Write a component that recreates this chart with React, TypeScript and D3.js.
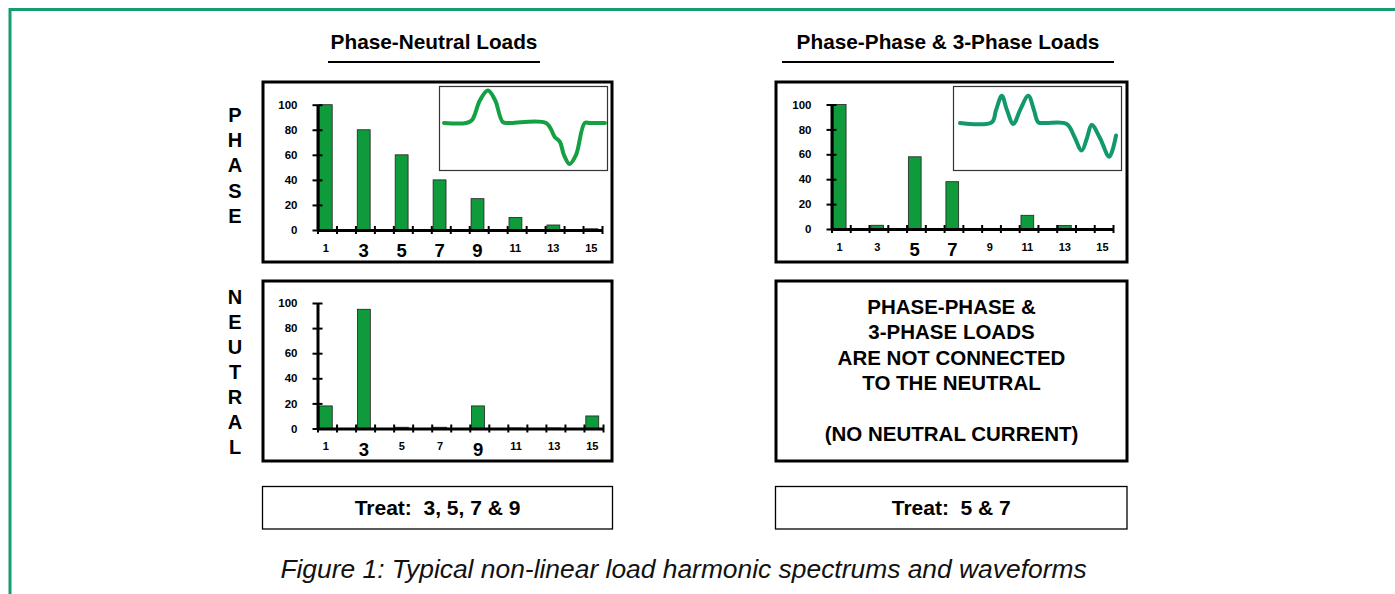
import React, { useEffect, useRef } from 'react'
import * as d3 from 'd3'

// harmonic orders on the x axis, only the odd ones get a label
const harmonics = [1, 2, 3, 4, 5, 6, 7, 8, 9, 10, 11, 12, 13, 14, 15]
const oddLabels = [1, 3, 5, 7, 9, 11, 13, 15]
const yTicks = [0, 20, 40, 60, 80, 100]

// % of fundamental
const phaseNeutralPhase = [100, 0, 80, 0, 60, 0, 40, 0, 25, 0, 10, 0, 4, 0, 1]
const phaseNeutralNeutral = [18, 0, 95, 0, 1, 0, 1, 0, 18, 0, 0.4, 0, 0.4, 0, 10]
const phasePhasePhase = [100, 0, 3, 0, 58, 0, 38, 0, 0.5, 0, 11, 0, 2.8, 0, 0.5]

// harmonics that are drawn with a big label
const bigPhaseNeutral = [3, 5, 7, 9]
const bigPhasePhase = [5, 7]
const bigNeutral = [3, 9]

// current waveforms in the insets: [time 0..1, amplitude]
const waveSingle: [number, number][] = [
  [0, 0], [0.137, 0], [0.174, 0.07], [0.224, 0.56], [0.273, 0.79], [0.317, 0.56],
  [0.366, 0.02], [0.41, 0], [0.634, 0], [0.688, -0.34], [0.72, -0.46], [0.745, -0.78],
  [0.78, -1], [0.82, -0.78], [0.874, 0], [0.907, 0], [1, 0],
]
const waveDouble: [number, number][] = [
  [0, 0], [0.203, 0.02], [0.231, 0.38], [0.268, 0.8], [0.301, 0.38], [0.342, -0.03],
  [0.385, 0.38], [0.438, 0.8], [0.474, 0.38], [0.502, 0.02], [0.545, 0], [0.684, -0.03],
  [0.731, -0.38], [0.78, -0.81], [0.814, -0.44], [0.844, -0.05], [0.897, -0.44],
  [0.957, -0.99], [1, -0.37],
]

const titleLeft = 'Phase-Neutral Loads'
const titleRight = 'Phase-Phase & 3-Phase Loads'
const phaseLetters = ['P', 'H', 'A', 'S', 'E']
const neutralLetters = ['N', 'E', 'U', 'T', 'R', 'A', 'L']
const noNeutralLines = ['PHASE-PHASE &', '3-PHASE LOADS', 'ARE NOT CONNECTED', 'TO THE NEUTRAL', '', '(NO NEUTRAL CURRENT)']
const treatLeft = 'Treat:  3, 5, 7 & 9'
const treatRight = 'Treat:  5 & 7'
const caption = 'Figure 1: Typical non-linear load harmonic spectrums and waveforms'

const FONT = '"Liberation Sans", Arial, Helvetica, sans-serif'
const BAR = '#0f9a3b'

const panels = [
  {
    box: { x: 263, y: 82, w: 349, h: 180 },
    axis: { x0: 317.5, x1: 602, y0: 230, y1: 104.7 },
    values: phaseNeutralPhase, big: bigPhaseNeutral,
    inset: { x: 439.5, y: 86.5, w: 168, h: 84, wave: waveSingle, color: '#16a044', t0: 444, t1: 605, base: 123, amp: 41 },
  },
  {
    box: { x: 776, y: 82, w: 351, h: 180 },
    axis: { x0: 831.5, x1: 1113, y0: 229, y1: 104.5 },
    values: phasePhasePhase, big: bigPhasePhase,
    inset: { x: 953.5, y: 86.5, w: 168, h: 84, wave: waveDouble, color: '#12996b', t0: 960, t1: 1116, base: 123, amp: 34 },
  },
  {
    box: { x: 263, y: 281, w: 349, h: 180 },
    axis: { x0: 317.5, x1: 603, y0: 428.5, y1: 303 },
    values: phaseNeutralNeutral, big: bigNeutral,
    inset: null,
  },
]

const App = () => {
  const svgRef = useRef<SVGSVGElement>(null)

  useEffect(() => {
    const svg = d3.select(svgRef.current)
    svg.selectAll('*').remove()

    // outer frame
    svg.append('path')
      .attr('d', 'M10,594 L10,9.5 L1395,9.5')
      .attr('fill', 'none')
      .attr('stroke', '#169b73')
      .attr('stroke-width', 3)

    // headings
    const heads = [
      { text: titleLeft, cx: 434, ux0: 328, ux1: 540 },
      { text: titleRight, cx: 948, ux0: 782, ux1: 1114 },
    ]
    heads.forEach(h => {
      svg.append('text')
        .attr('x', h.cx).attr('y', 49)
        .attr('text-anchor', 'middle')
        .attr('font-family', FONT).attr('font-weight', 'bold').attr('font-size', 20.8)
        .text(h.text)
      svg.append('line')
        .attr('x1', h.ux0).attr('x2', h.ux1).attr('y1', 62).attr('y2', 62)
        .attr('stroke', '#000').attr('stroke-width', 2)
    })

    // vertical row labels
    phaseLetters.forEach((l, i) => {
      svg.append('text')
        .attr('x', 235).attr('y', 122 + i * 25.2)
        .attr('text-anchor', 'middle')
        .attr('font-family', FONT).attr('font-weight', 'bold').attr('font-size', 20)
        .text(l)
    })
    neutralLetters.forEach((l, i) => {
      svg.append('text')
        .attr('x', 235).attr('y', 303.5 + i * 25)
        .attr('text-anchor', 'middle')
        .attr('font-family', FONT).attr('font-weight', 'bold').attr('font-size', 20)
        .text(l)
    })

    panels.forEach(p => {
      const g = svg.append('g')

      g.append('rect')
        .attr('x', p.box.x).attr('y', p.box.y).attr('width', p.box.w).attr('height', p.box.h)
        .attr('fill', '#fff').attr('stroke', '#000').attr('stroke-width', 3)

      const x = d3.scaleBand<number>()
        .domain(harmonics)
        .range([p.axis.x0, p.axis.x1])
        .paddingInner(0.32)
        .paddingOuter(0.16)
        .align(0.3)
      const edges = d3.scaleLinear().domain([0, harmonics.length]).range([p.axis.x0, p.axis.x1])
      const y = d3.scaleLinear().domain([0, 100]).range([p.axis.y0, p.axis.y1])

      g.selectAll('.bar')
        .data(harmonics.map((h, i) => ({ h, v: p.values[i] })).filter(d => d.v > 0))
        .enter()
        .append('rect')
        .attr('class', 'bar')
        .attr('x', d => x(d.h)!)
        .attr('width', x.bandwidth())
        .attr('y', d => y(d.v))
        .attr('height', d => p.axis.y0 - y(d.v))
        .attr('fill', BAR)
        .attr('stroke', '#222')
        .attr('stroke-width', 0.8)

      // y axis
      const yAxis = g.append('g')
        .attr('transform', `translate(${p.axis.x0},0)`)
        .call(d3.axisLeft(y).tickValues(yTicks).tickSizeOuter(0).tickSizeInner(5).tickPadding(15))
      yAxis.select('.domain').attr('stroke-width', 3)
      yAxis.selectAll('.tick line').attr('x1', 5).attr('stroke-width', 2)
      yAxis.selectAll('.tick text')
        .attr('font-family', FONT).attr('font-weight', 'bold').attr('font-size', 11.5).attr('fill', '#000')

      // x axis, ticks on the band boundaries
      const xAxis = g.append('g')
        .attr('transform', `translate(0,${p.axis.y0})`)
        .call(d3.axisBottom(edges).tickValues(d3.range(0, harmonics.length + 1)).tickFormat(() => '').tickSizeOuter(0).tickSizeInner(4))
      xAxis.select('.domain').attr('stroke-width', 3)
      xAxis.selectAll('.tick line').attr('y1', -4).attr('stroke-width', 2)

      oddLabels.forEach(h => {
        const big = p.big.includes(h)
        g.append('text')
          .attr('x', x(h)! + x.bandwidth() / 2)
          .attr('y', p.axis.y0 + (big ? 27 : 21.5))
          .attr('text-anchor', 'middle')
          .attr('font-family', FONT).attr('font-weight', 'bold')
          .attr('font-size', big ? 18.5 : 11)
          .text(h)
      })

      if (p.inset) {
        const ins = p.inset
        g.append('rect')
          .attr('x', ins.x).attr('y', ins.y).attr('width', ins.w).attr('height', ins.h)
          .attr('fill', '#fff').attr('stroke', '#333').attr('stroke-width', 1.2)
        const tx = d3.scaleLinear().domain([0, 1]).range([ins.t0, ins.t1])
        const ty = d3.scaleLinear().domain([-1, 1]).range([ins.base + ins.amp, ins.base - ins.amp])
        const line = d3.line<[number, number]>()
          .x(d => tx(d[0]))
          .y(d => ty(d[1]))
          .curve(d3.curveCatmullRom.alpha(0.5))
        g.append('path')
          .attr('d', line(ins.wave)!)
          .attr('fill', 'none')
          .attr('stroke', ins.color)
          .attr('stroke-width', 4)
          .attr('stroke-linecap', 'round')
          .attr('stroke-linejoin', 'round')
      }
    })

    // note box for phase-phase loads
    svg.append('rect')
      .attr('x', 776).attr('y', 281).attr('width', 351).attr('height', 180)
      .attr('fill', '#fff').attr('stroke', '#000').attr('stroke-width', 3)
    noNeutralLines.forEach((l, i) => {
      svg.append('text')
        .attr('x', 951.5).attr('y', 314 + i * 25.4)
        .attr('text-anchor', 'middle')
        .attr('font-family', FONT).attr('font-weight', 'bold').attr('font-size', 20.5)
        .text(l)
    })

    // treatment boxes
    const treats = [
      { text: treatLeft, x: 262.5, w: 350 },
      { text: treatRight, x: 775.5, w: 351.5 },
    ]
    treats.forEach(t => {
      svg.append('rect')
        .attr('x', t.x).attr('y', 486.5).attr('width', t.w).attr('height', 42.5)
        .attr('fill', '#fff').attr('stroke', '#000').attr('stroke-width', 1.3)
      svg.append('text')
        .attr('x', t.x + t.w / 2).attr('y', 515)
        .attr('text-anchor', 'middle')
        .attr('font-family', FONT).attr('font-weight', 'bold').attr('font-size', 21)
        .style('white-space', 'pre')
        .text(t.text)
    })

    svg.append('text')
      .attr('x', 683.5).attr('y', 578)
      .attr('text-anchor', 'middle')
      .attr('font-family', FONT).attr('font-style', 'italic').attr('font-size', 26.4)
      .attr('fill', '#111')
      .text(caption)
  }, [])

  return (
    <svg
      ref={svgRef}
      width={1395}
      height={594}
      style={{ position: 'absolute', left: 0, top: 0, background: '#fff' }}
    />
  )
}

export default App
